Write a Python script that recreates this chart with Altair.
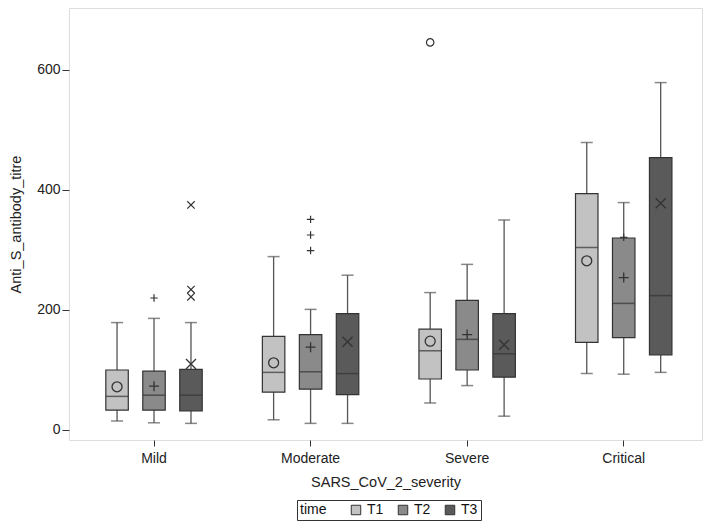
import altair as alt
import pandas as pd

severity = ["Mild", "Moderate", "Severe", "Critical"]
times = ["T1", "T2", "T3"]

# box statistics per time point, in severity order
whisker_high = {"T1": [179, 289, 229, 479], "T2": [186, 201, 276, 379], "T3": [179, 258, 350, 579]}
q3 = {"T1": [100, 156, 168, 394], "T2": [98, 159, 216, 320], "T3": [101, 194, 194, 454]}
median = {"T1": [56, 96, 132, 304], "T2": [58, 97, 151, 211], "T3": [58, 94, 127, 224]}
q1 = {"T1": [33, 63, 85, 146], "T2": [33, 68, 100, 154], "T3": [32, 59, 88, 125]}
whisker_low = {"T1": [15, 17, 45, 94], "T2": [12, 11, 74, 93], "T3": [11, 11, 23, 96]}
mean = {"T1": [72, 112, 148, 282], "T2": [73, 138, 159, 254], "T3": [110, 147, 142, 378]}

outlier_severity = ["Mild", "Mild", "Mild", "Mild", "Moderate", "Moderate", "Moderate", "Severe", "Critical"]
outlier_time = ["T2", "T3", "T3", "T3", "T2", "T2", "T2", "T1", "T2"]
outlier_value = [220, 375, 234, 222, 351, 325, 299, 646, 321]

fills = ["#c2c2c2", "#8a8a8a", "#5a5a5a"]
PLUS = "M-1,0L1,0M0,-1L0,1"
XSH = "M-1,-1L1,1M-1,1L1,-1"
shapes = ["circle", PLUS, XSH]

rows = []
for t in times:
    for i, s in enumerate(severity):
        rows.append(dict(severity=s, time=t, whi=whisker_high[t][i], q3=q3[t][i],
                         med=median[t][i], q1=q1[t][i], wlo=whisker_low[t][i], mean=mean[t][i]))
box = pd.DataFrame(rows)
outl = pd.DataFrame(dict(severity=outlier_severity, time=outlier_time, value=outlier_value))

FONT = "Liberation Sans"
DARK = "#333333"

x_enc = alt.X("severity:N", sort=severity,
              scale=alt.Scale(paddingInner=0, paddingOuter=0.0215, align=1),
              axis=alt.Axis(title="SARS_CoV_2_severity", labelAngle=0, tickSize=6,
                            labelPadding=5, titlePadding=10, domain=False,
                            labelFontSize=14, titleFontSize=14.5, titleFontWeight="normal",
                            labelColor="#222", titleColor="#222", tickColor=DARK))
xo_enc = alt.XOffset("time:N", sort=times, scale=alt.Scale(domain=times, paddingInner=0.392, paddingOuter=0.8135))
y_scale = alt.Scale(domain=[-16.7, 703.3], nice=False, zero=False)
y_axis = alt.Axis(title="Anti_S_antibody_titre", values=[0, 200, 400, 600], grid=False,
                  domain=False, tickSize=7, labelPadding=2, titlePadding=13,
                  labelFontSize=14, titleFontSize=14.5, titleFontWeight="normal",
                  labelColor="#222", titleColor="#222", tickColor=DARK)

base = alt.Chart(box)

whisk = base.mark_rule(color="#555555", strokeWidth=1.3).encode(
    x=x_enc, xOffset=xo_enc, y=alt.Y("wlo:Q", scale=y_scale, axis=y_axis), y2="whi:Q")
cap_hi = base.mark_tick(color="#555555", size=12, thickness=1.5).encode(
    x=x_enc, xOffset=xo_enc, y=alt.Y("whi:Q", scale=y_scale))
cap_lo = base.mark_tick(color="#555555", size=12, thickness=1.5).encode(
    x=x_enc, xOffset=xo_enc, y=alt.Y("wlo:Q", scale=y_scale))
boxes = base.mark_bar(stroke=DARK, strokeWidth=1.2).encode(
    x=x_enc, xOffset=xo_enc, y=alt.Y("q1:Q", scale=y_scale), y2="q3:Q",
    fill=alt.Fill("time:N", sort=times, scale=alt.Scale(domain=times, range=fills),
                  legend=alt.Legend(title="time", symbolType="square")))
meds = base.mark_tick(color=DARK, size=22, thickness=1.5).encode(
    x=x_enc, xOffset=xo_enc, y=alt.Y("med:Q", scale=y_scale))

layers = [whisk, cap_hi, cap_lo, boxes, meds]
for t, shp in zip(times, shapes):
    layers.append(
        base.transform_filter(alt.datum.time == t)
        .mark_point(filled=False, color=DARK, strokeWidth=1.3, size=100, opacity=1, shape=shp)
        .encode(x=x_enc, xOffset=xo_enc, y=alt.Y("mean:Q", scale=y_scale)))
    layers.append(
        alt.Chart(outl).transform_filter(alt.datum.time == t)
        .mark_point(filled=False, color=DARK, strokeWidth=1.2, size=55, opacity=1, shape=shp)
        .encode(x=x_enc, xOffset=xo_enc, y=alt.Y("value:Q", scale=y_scale)))

chart = alt.layer(*layers).properties(
    width=633, height=432,
    autosize=alt.AutoSizeParams(type="none"),
    padding={"left": 61, "top": 0, "right": 1, "bottom": 81},
).configure_view(stroke=DARK, strokeWidth=1.2).configure(font=FONT).configure_legend(
    orient="none", legendX=228, legendY=492, direction="horizontal", titleOrient="left",
    strokeColor=DARK, padding=3, titleFontSize=14, titleFontWeight="normal", labelFontSize=14,
    titleColor="#111", labelColor="#111", symbolType="square", symbolStrokeColor=DARK,
    symbolStrokeWidth=1, symbolSize=90, titlePadding=22, columnPadding=12, labelOffset=4,
    fillColor="white"
)

chart.save("out.html", embed_options={"renderer": "svg", "actions": False})
